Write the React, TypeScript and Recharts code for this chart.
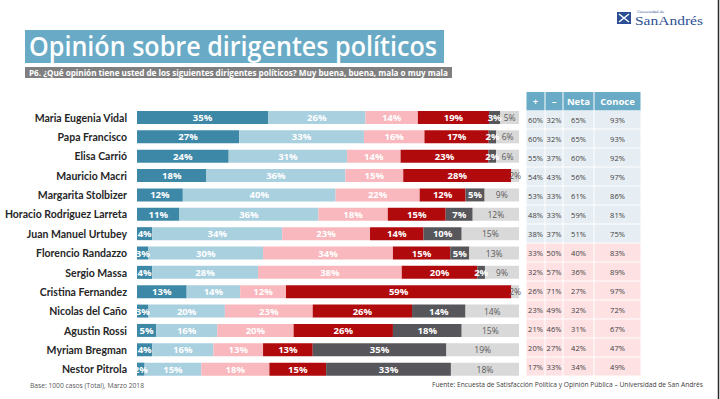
import React from "react";
import { Bar, BarChart, LabelList, XAxis, YAxis } from "recharts";

const names = [
  "Maria Eugenia Vidal",
  "Papa Francisco",
  "Elisa Carrió",
  "Mauricio Macri",
  "Margarita Stolbizer",
  "Horacio Rodriguez Larreta",
  "Juan Manuel Urtubey",
  "Florencio Randazzo",
  "Sergio Massa",
  "Cristina Fernandez",
  "Nicolas del Caño",
  "Agustin Rossi",
  "Myriam Bregman",
  "Nestor Pitrola",
];

const muyBuena = [35, 27, 24, 18, 12, 11, 4, 3, 4, 13, 3, 5, 4, 2];
const buena = [26, 33, 31, 36, 40, 36, 34, 30, 28, 14, 20, 16, 16, 15];
const mala = [14, 16, 14, 15, 22, 18, 23, 34, 38, 12, 23, 20, 13, 18];
const muyMala = [19, 17, 23, 28, 12, 15, 14, 15, 20, 59, 26, 26, 13, 15];
const nsnc = [3, 2, 2, 0, 5, 7, 10, 5, 2, 0, 14, 18, 35, 33];
const noConoce = [5, 6, 6, 2, 9, 12, 15, 13, 9, 2, 14, 15, 19, 18];

const positiva = [60, 60, 55, 54, 53, 48, 38, 33, 32, 26, 23, 21, 20, 17];
const negativa = [32, 32, 37, 43, 33, 33, 37, 50, 57, 71, 49, 46, 27, 33];
const neta = [65, 65, 60, 56, 61, 59, 51, 40, 36, 27, 32, 31, 42, 34];
const conoce = [93, 93, 92, 97, 86, 81, 75, 83, 89, 97, 72, 67, 47, 49];

const tableHeaders = ["+", "–", "Neta", "Conoce"];

const rows = names.map((name, i) => ({
  name,
  muyBuena: muyBuena[i],
  buena: buena[i],
  mala: mala[i],
  muyMala: muyMala[i],
  nsnc: nsnc[i],
  noConoce: noConoce[i],
}));

const FONT = "'Open Sans', 'Noto Sans', sans-serif";
const BLUE = "#69abc6";

const series = [
  { key: "muyBuena", values: muyBuena, fill: "#3e88a7", text: "#ffffff", weight: 700 },
  { key: "buena", values: buena, fill: "#a9d0df", text: "#ffffff", weight: 700 },
  { key: "mala", values: mala, fill: "#f8b8bd", text: "#ffffff", weight: 700 },
  { key: "muyMala", values: muyMala, fill: "#b00a0c", text: "#ffffff", weight: 700 },
  { key: "nsnc", values: nsnc, fill: "#57575b", text: "#ffffff", weight: 700 },
  { key: "noConoce", values: noConoce, fill: "#d9d9d9", text: "#595959", weight: 400 },
];

// label lookup goes through the row name, since zero-width bars get skipped
const makeLabel =
  (values: number[], color: string, weight: number) => (props: any) => {
    const vb = props.viewBox || {};
    const x = props.x ?? vb.x;
    const y = props.y ?? vb.y;
    const w = props.width ?? vb.width ?? 0;
    const h = props.height ?? vb.height ?? 0;
    const idx = names.indexOf(props.value);
    const v = values[idx >= 0 ? idx : props.index];
    if (v == null) return null;
    return (
      <text
        x={x + w / 2}
        y={y + h / 2}
        textAnchor="middle"
        dominantBaseline="central"
        fill={color}
        fontSize={weight === 700 ? 9.5 : 8.5}
        fontWeight={weight}
        fontFamily={FONT}
      >
        {v}%
      </text>
    );
  };

const NameTick = (props: any) => {
  const { x, y, payload } = props;
  return (
    <text
      x={x - 10}
      y={y}
      textAnchor="end"
      dominantBaseline="central"
      fill="#262626"
      fontSize={10.5}
      fontWeight={700}
      fontFamily="Lato, sans-serif"
    >
      {payload.value}
    </text>
  );
};

const colX = [526, 545, 563, 594, 641];
const tableCols = [positiva, negativa, neta, conoce];

const App: React.FC = () => (
  <div
    style={{
      position: "absolute",
      left: 0,
      top: 0,
      width: 720,
      height: 399,
      background: "#ffffff",
      overflow: "hidden",
      fontFamily: FONT,
    }}
  >
    <svg
      width={720}
      height={399}
      style={{ position: "absolute", left: 0, top: 0 }}
    >
      {/* logo */}
      <g transform="translate(617,11)">
        <rect x={0} y={1} width={14} height={12} fill="#2b4f95" />
        <path d="M2 3 L12 11 M12 3 L2 11" stroke="#ffffff" strokeWidth={1.5} />
      </g>
      <text x={637} y={13} fontSize={3.5} fill="#2b4f95" fontFamily="'DejaVu Serif', serif">
        Universidad de
      </text>
      <text
        x={635}
        y={25}
        fontSize={13.5}
        fill="#2b4f95"
        fontFamily="'Liberation Serif', serif"
        textLength={68}
        lengthAdjust="spacingAndGlyphs"
      >
        SanAndrés
      </text>

      {/* title */}
      <rect x={25} y={30} width={419} height={33} fill={BLUE} />
      <text
        x={29}
        y={56}
        fontSize={27}
        fontWeight={600}
        fill="#ffffff"
        fontFamily={FONT}
        textLength={408}
        lengthAdjust="spacingAndGlyphs"
      >
        Opinión sobre dirigentes políticos
      </text>
      <rect x={25} y={67} width={427} height={11} fill="#7f7f7f" />
      <text
        x={29}
        y={75.5}
        fontSize={8.5}
        fontWeight={700}
        fill="#ffffff"
        fontFamily={FONT}
        textLength={419}
        lengthAdjust="spacingAndGlyphs"
      >
        P6. ¿Qué opinión tiene usted de los siguientes dirigentes políticos? Muy buena, buena, mala o muy mala
      </text>

      {/* table */}
      {tableHeaders.map((h, c) => (
        <g key={h}>
          <rect
            x={colX[c] + 0.5}
            y={92}
            width={colX[c + 1] - colX[c] - 1}
            height={18.5}
            fill={BLUE}
          />
          <text
            x={(colX[c] + colX[c + 1]) / 2}
            y={101.5}
            textAnchor="middle"
            dominantBaseline="central"
            fill="#ffffff"
            fontSize={9.5}
            fontWeight={700}
            fontFamily={FONT}
          >
            {h}
          </text>
        </g>
      ))}
      {names.map((n, r) =>
        tableCols.map((col, c) => (
          <g key={n + c}>
            <rect
              x={colX[c] + 0.5}
              y={110.5 + r * 19}
              width={colX[c + 1] - colX[c] - 1}
              height={18}
              fill={r < 7 ? "#e7eef3" : "#fde1e3"}
            />
            <text
              x={(colX[c] + colX[c + 1]) / 2}
              y={119.5 + r * 19}
              textAnchor="middle"
              dominantBaseline="central"
              fill="#404040"
              fontSize={7.5}
              fontFamily={FONT}
            >
              {col[r]}%
            </text>
          </g>
        ))
      )}

      {/* footers */}
      <text
        x={30}
        y={388}
        fontSize={7.5}
        fill="#595959"
        fontFamily={FONT}
        textLength={114}
        lengthAdjust="spacingAndGlyphs"
      >
        Base: 1000 casos (Total), Marzo 2018
      </text>
      <text
        x={432}
        y={387}
        fontSize={7}
        fill="#404040"
        fontFamily={FONT}
        textLength={271}
        lengthAdjust="spacingAndGlyphs"
      >
        Fuente: Encuesta de Satisfacción Política y Opinión Pública – Universidad de San Andrés
      </text>
      <line x1={718.5} y1={0} x2={718.5} y2={399} stroke="#2a2a2a" strokeWidth={1.5} />
    </svg>

    <div style={{ position: "absolute", left: 0, top: 108 }}>
      <BarChart
        layout="vertical"
        width={530}
        height={271}
        data={rows}
        stackOffset="expand"
        barSize={13}
        margin={{ top: 0, right: 11, bottom: 0, left: 0 }}
      >
        <XAxis type="number" hide domain={[0, 1]} />
        <YAxis
          type="category"
          dataKey="name"
          width={137}
          axisLine={false}
          tickLine={false}
          tickSize={0}
          tickMargin={0}
          interval={0}
          tick={<NameTick />}
        />
        {series.map((s) => (
          <Bar
            key={s.key}
            dataKey={s.key}
            stackId="a"
            fill={s.fill}
            isAnimationActive={false}
          >
            <LabelList
              dataKey="name"
              content={makeLabel(s.values, s.text, s.weight)}
            />
          </Bar>
        ))}
      </BarChart>
    </div>
  </div>
);

export default App;
